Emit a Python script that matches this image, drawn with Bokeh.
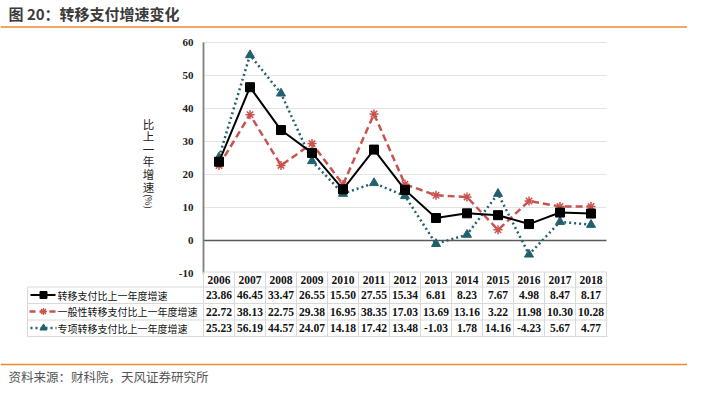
from bokeh.plotting import figure
from bokeh.models import Range1d
from bokeh.core.properties import value
from bokeh.embed import file_html
from bokeh.resources import INLINE

# ---------------- data ----------------
years = [2006, 2007, 2008, 2009, 2010, 2011, 2012, 2013, 2014, 2015, 2016, 2017, 2018]
transfer = [23.86, 46.45, 33.47, 26.55, 15.50, 27.55, 15.34, 6.81, 8.23, 7.67, 4.98, 8.47, 8.17]
general = [22.72, 38.13, 22.75, 29.38, 16.95, 38.35, 17.03, 13.69, 13.16, 3.22, 11.98, 10.30, 10.28]
special = [25.23, 56.19, 44.57, 24.07, 14.18, 17.42, 13.48, -1.03, 1.78, 14.16, -4.23, 5.67, 4.77]
series_names = ["转移支付比上一年度增速", "一般性转移支付比上一年度增速", "专项转移支付比上一年度增速"]
y_ticks = [-10, 0, 10, 20, 30, 40, 50, 60]
y_label_chars = ["比", "上", "一", "年", "增", "速"]
title_text = "图 20：转移支付增速变化"
source_text = "资料来源：财科院，天风证券研究所"

# ---------------- layout (pixel coordinates) ----------------
W, H = 687, 384
X_AXIS_PX = 203.0      # y-axis position
COL_W = 31.0           # width of one year column
ZERO_PX = 240.0        # pixel row of value 0
PX_PER_UNIT = 3.3      # pixels per percentage point

CJK = value("Noto Sans CJK SC")
SERIF = value("Liberation Serif")

BLACK = "#000000"
RED = "#C9534F"
TEAL = "#22606F"
ORANGE = "#EC8A2F"
GRID = "#E3E3E3"
BORDER = "#D9D9D9"

p = figure(width=W, height=H, x_range=Range1d(0, W), y_range=Range1d(H, 0),
           output_backend="svg", toolbar_location=None, min_border=0,
           x_axis_type=None, y_axis_type=None)
p.grid.visible = False
p.outline_line_color = None
p.background_fill_color = "white"
p.border_fill_color = "white"

first = years[0]
x0_val = first - 0.5 - X_AXIS_PX / COL_W
x1_val = first - 0.5 + (W - X_AXIS_PX) / COL_W
y_bot = (ZERO_PX - H) / PX_PER_UNIT
y_top = ZERO_PX / PX_PER_UNIT
p.extra_x_ranges = {"yr": Range1d(x0_val, x1_val)}
p.extra_y_ranges = {"pct": Range1d(y_bot, y_top)}

# ---------------- header / footer ----------------
p.text(x=[8], y=[13], text=[title_text], text_font=CJK, text_font_size="15px",
       text_font_style="bold", text_color="#3A3A3A", text_baseline="middle", text_align="left")
p.segment(x0=[0], y0=[26.5], x1=[W], y1=[26.5], line_color=ORANGE, line_width=1.5)
p.segment(x0=[0], y0=[364], x1=[W], y1=[364], line_color=ORANGE, line_width=1.5)
p.text(x=[8], y=[375.5], text=[source_text], text_font=CJK, text_font_size="12.5px",
       text_color="#555555", text_baseline="middle", text_align="left")

# ---------------- plot area ----------------
right_x = years[-1] + 0.5
left_x = years[0] - 0.5
grid_vals = [t for t in y_ticks if t > 0]
p.segment(x0=[left_x] * len(grid_vals), x1=[right_x] * len(grid_vals), y0=grid_vals, y1=grid_vals,
          x_range_name="yr", y_range_name="pct", line_color=GRID, line_width=1)
p.segment(x0=[left_x], x1=[right_x], y0=[0], y1=[0], x_range_name="yr", y_range_name="pct",
          line_color="#595959", line_width=1.5)
p.segment(x0=[left_x], x1=[left_x], y0=[y_ticks[0]], y1=[y_ticks[-1]], x_range_name="yr",
          y_range_name="pct", line_color="#7F7F7F", line_width=1.8)
p.text(x=[X_AXIS_PX - 10] * len(y_ticks), y=y_ticks, text=[str(t) for t in y_ticks],
       y_range_name="pct", text_font=SERIF, text_font_size="11px", text_font_style="bold",
       text_align="right", text_baseline="middle", text_color="#222222")

# y-axis title (stacked upright characters)
p.text(x=[148] * len(y_label_chars), y=[123 + 12.6 * i for i in range(len(y_label_chars))],
       text=y_label_chars, text_font=CJK, text_font_size="11.5px", text_align="center",
       text_baseline="middle", text_color="#222222")
p.text(x=[148], y=[201], text=["(%)"], angle=-1.5708, text_font=CJK, text_font_size="9px",
       text_align="center", text_baseline="middle", text_color="#222222")

# series
p.line(x=years, y=special, x_range_name="yr", y_range_name="pct", line_color=TEAL,
       line_width=2.5, line_dash="2 3")
p.scatter(x=years, y=special, x_range_name="yr", y_range_name="pct", marker="triangle",
          size=9, fill_color=TEAL, line_color=TEAL)
p.line(x=years, y=general, x_range_name="yr", y_range_name="pct", line_color=RED,
       line_width=2.5, line_dash="7 4")
p.scatter(x=years, y=general, x_range_name="yr", y_range_name="pct", marker="asterisk",
          size=9, line_color=RED, line_width=1.5)
p.line(x=years, y=transfer, x_range_name="yr", y_range_name="pct", line_color=BLACK, line_width=2)
p.scatter(x=years, y=transfer, x_range_name="yr", y_range_name="pct", marker="square",
          size=9, fill_color=BLACK, line_color=BLACK)

# ---------------- data table ----------------
hdr_y = 279
row_ys = [294.5, 311, 327.5]
h_lines = [286.5, 303, 319.5, 336]
top_y = 271.5
p.segment(x0=[left_x], x1=[right_x], y0=[top_y], y1=[top_y], x_range_name="yr",
          line_color=BORDER, line_width=1)
p.segment(x0=[27] * len(h_lines), x1=[607] * len(h_lines), y0=h_lines, y1=h_lines,
          line_color=BORDER, line_width=1)
bounds = [y - 0.5 for y in years] + [right_x]
p.segment(x0=bounds, x1=bounds, y0=[top_y] * len(bounds), y1=[h_lines[-1]] * len(bounds),
          x_range_name="yr", line_color=BORDER, line_width=1)
p.segment(x0=[27], x1=[27], y0=[h_lines[0]], y1=[h_lines[-1]], line_color=BORDER, line_width=1)

p.text(x=years, y=[hdr_y] * len(years), text=[str(y) for y in years], x_range_name="yr",
       text_font=SERIF, text_font_size="11.5px", text_font_style="bold", text_align="center",
       text_baseline="middle", text_color="#111111")
for ry, vals in zip(row_ys, [transfer, general, special]):
    p.text(x=years, y=[ry] * len(years), text=[f"{v:.2f}" for v in vals], x_range_name="yr",
           text_font=SERIF, text_font_size="11.5px", text_font_style="bold", text_align="center",
           text_baseline="middle", text_color="#111111")

# legend keys
p.segment(x0=[30], x1=[55], y0=[row_ys[0]], y1=[row_ys[0]], line_color=BLACK, line_width=2)
p.scatter(x=[43], y=[row_ys[0]], marker="square", size=7, fill_color=BLACK, line_color=BLACK)
p.segment(x0=[29], x1=[56], y0=[row_ys[1]], y1=[row_ys[1]], line_color=RED, line_width=2.5,
          line_dash="6 4")
p.scatter(x=[43], y=[row_ys[1]], marker="asterisk", size=7, line_color=RED, line_width=1.3)
p.segment(x0=[30], x1=[56], y0=[row_ys[2]], y1=[row_ys[2]], line_color=TEAL, line_width=2.5,
          line_dash="2 3")
p.scatter(x=[43], y=[row_ys[2]], marker="triangle", size=7, fill_color=TEAL, line_color=TEAL)
p.text(x=[57] * 3, y=row_ys, text=series_names, text_font=CJK, text_font_size="10px",
       text_align="left", text_baseline="middle", text_color="#111111")

open("out.html", "w").write(file_html(p, INLINE))
